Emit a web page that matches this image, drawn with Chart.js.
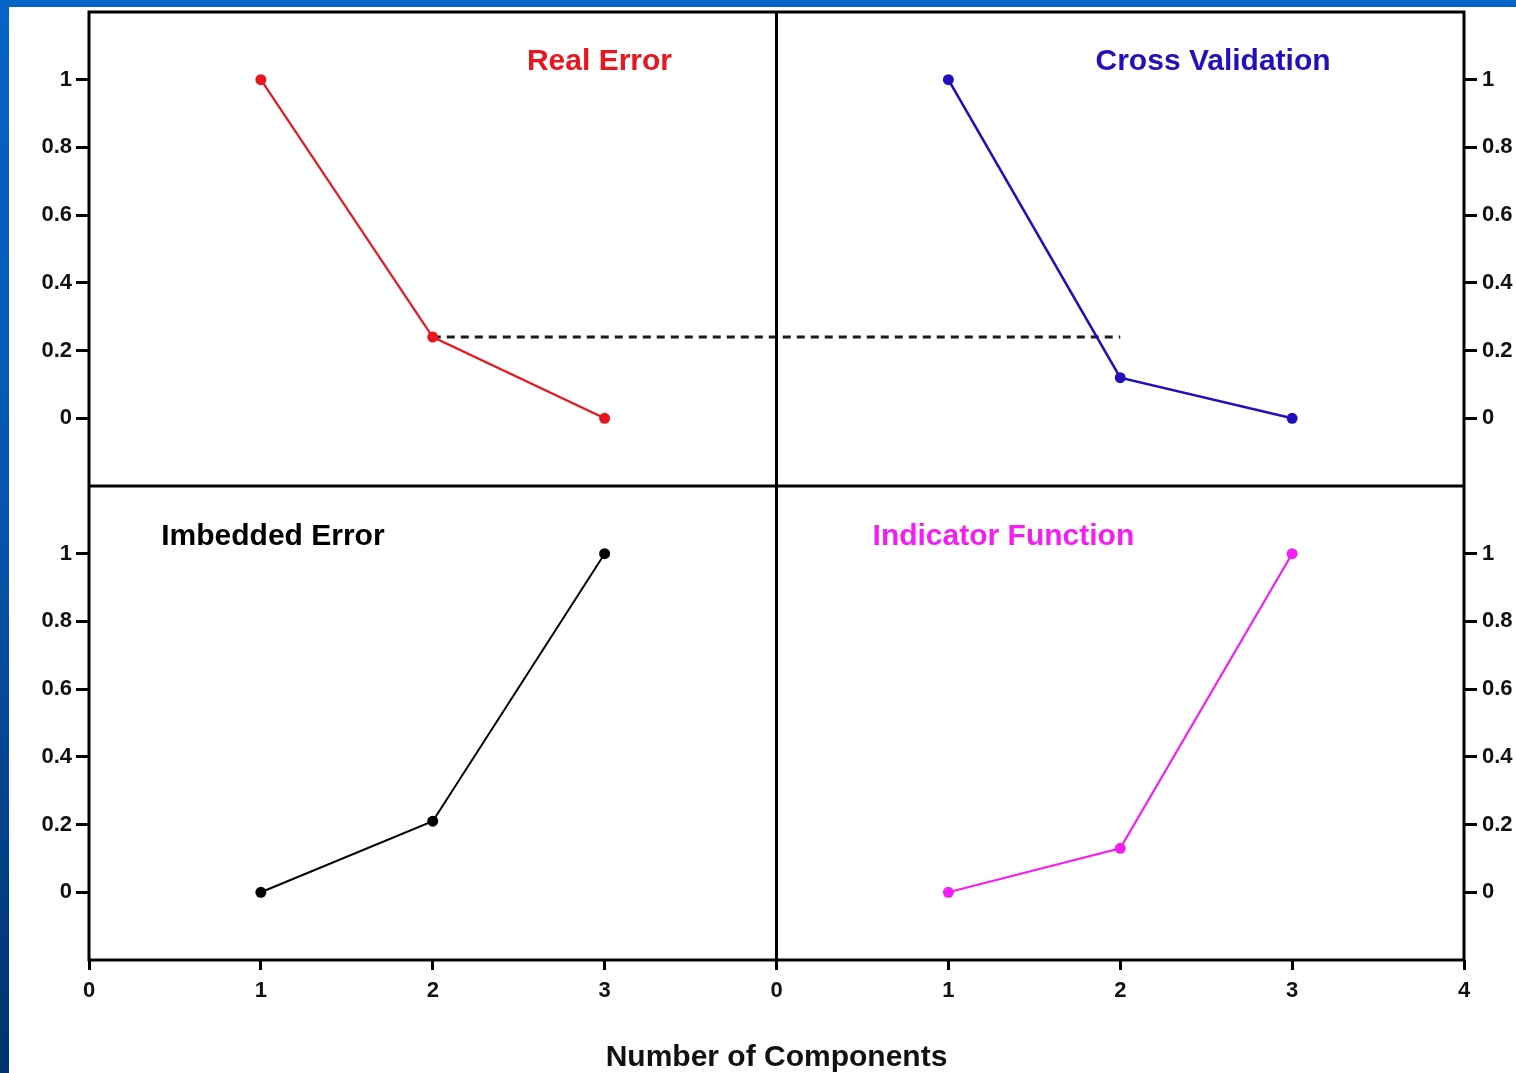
<!DOCTYPE html>
<html>
<head>
<meta charset="utf-8">
<script src="https://cdn.jsdelivr.net/npm/chart.js@4.4.1/dist/chart.umd.min.js"></script>
<style>
  html, body { margin: 0; padding: 0; }
  body {
    width: 1516px; height: 1073px; overflow: hidden; position: relative;
    background: linear-gradient(180deg, #0563c7 0%, #0457b2 45%, #00336f 100%);
  }
  #sheet { position: absolute; left: 9px; top: 7px; right: 0; bottom: 0; background: #fff; }
  #chart { position: absolute; left: 0; top: 0; }
</style>
</head>
<body>
<div id="sheet"></div>
<canvas id="chart" width="1516" height="1073"></canvas>
<script>
// Normalised error measures versus number of components
const components        = [1, 2, 3];
const realError         = [1, 0.24, 0];
const crossValidation   = [1, 0.12, 0];
const imbeddedError     = [0, 0.21, 1];
const indicatorFunction = [0, 0.13, 1];

const yTickValues  = [0, 0.2, 0.4, 0.6, 0.8, 1];
const xTickLabels  = ['0', '1', '2', '3', '0', '1', '2', '3', '4'];
const panelTitles  = ['Real Error', 'Cross Validation', 'Imbedded Error', 'Indicator Function'];
const xAxisTitle   = 'Number of Components';

// The two right-hand panels share the x scale, shifted by one panel width.
const PANEL_SPAN = 4;

const FONT_FAMILY = "'Liberation Sans', Arial, Helvetica, sans-serif";
const tickFont = { family: FONT_FAMILY, size: 22, weight: 'bold' };

const RED = '#e8161e', BLUE = '#2211bb', BLACK = '#000000', MAGENTA = '#f41ef4';

// Title anchors in panel data units (x centre, text baseline), with colour and y scale
const titleStyles = [
  { x: 2.97, y: 1.03, scale: 'yTop', color: RED },
  { x: 6.54, y: 1.03, scale: 'yTop', color: BLUE },
  { x: 1.07, y: 1.025, scale: 'yBot', color: BLACK },
  { x: 5.32, y: 1.025, scale: 'yBot', color: MAGENTA }
];

function points(values, shift) {
  return components.map((c, i) => ({ x: c + shift, y: values[i] }));
}

function lineSet(label, values, shift, yAxisID, color, width) {
  return {
    label, data: points(values, shift), xAxisID: 'x', yAxisID,
    borderColor: color, backgroundColor: color, borderWidth: width,
    pointRadius: 5.5, pointBorderWidth: 0, pointBackgroundColor: color,
    tension: 0, order: 0
  };
}

function yScale(position, weight) {
  return {
    type: 'linear', position, stack: position, stackWeight: 1, weight,
    min: -0.2, max: 1.2,
    afterBuildTicks: s => { s.ticks = yTickValues.map(v => ({ value: v })); },
    afterFit: s => {
      s.width = position === 'left' ? 89 : 52;
      s.paddingTop = 0; s.paddingBottom = 0;
    },
    border: { display: false },
    grid: {
      drawOnChartArea: false, drawTicks: true, tickLength: 13,
      tickWidth: 3, tickColor: '#000', color: '#000', lineWidth: 3
    },
    ticks: {
      padding: position === 'left' ? 4 : 5, color: '#111', font: tickFont,
      callback: v => String(+Number(v).toFixed(1))
    }
  };
}

// Outer frame, panel dividers and panel titles
const panelFrame = {
  id: 'panelFrame',
  afterDatasetsDraw(chart) {
    const { ctx, chartArea: a, scales } = chart;
    const midX = scales.x.getPixelForValue(PANEL_SPAN);
    const midY = scales.yTop.bottom;
    ctx.save();
    ctx.strokeStyle = '#000';
    ctx.lineWidth = 3;
    ctx.strokeRect(a.left, a.top, a.right - a.left, a.bottom - a.top);
    ctx.beginPath();
    ctx.moveTo(midX, a.top); ctx.lineTo(midX, a.bottom);
    ctx.moveTo(a.left, midY); ctx.lineTo(a.right, midY);
    ctx.stroke();

    ctx.font = `bold 30px ${FONT_FAMILY}`;
    ctx.textAlign = 'center';
    ctx.textBaseline = 'alphabetic';
    panelTitles.forEach((t, i) => {
      const s = titleStyles[i];
      ctx.fillStyle = s.color;
      ctx.fillText(t, scales.x.getPixelForValue(s.x), scales[s.scale].getPixelForValue(s.y));
    });
    ctx.restore();
  }
};

new Chart(document.getElementById('chart'), {
  type: 'line',
  data: {
    datasets: [
      lineSet(panelTitles[0], realError, 0, 'yTop', RED, 2.2),
      lineSet(panelTitles[1], crossValidation, PANEL_SPAN, 'yTop', BLUE, 2.6),
      lineSet(panelTitles[2], imbeddedError, 0, 'yBot', BLACK, 2),
      lineSet(panelTitles[3], indicatorFunction, PANEL_SPAN, 'yBot', MAGENTA, 2.2),
      {
        label: 'reference level',
        data: [
          { x: components[1], y: realError[1] },
          { x: components[1] + PANEL_SPAN, y: realError[1] }
        ],
        xAxisID: 'x', yAxisID: 'yTop',
        borderColor: '#1a1a1a', borderWidth: 3, borderDash: [8, 6],
        pointRadius: 0, tension: 0, order: 1
      }
    ]
  },
  options: {
    responsive: false,
    animation: false,
    devicePixelRatio: 1,
    layout: { padding: { top: 12, left: 0, right: 0, bottom: 0 } },
    plugins: { legend: { display: false }, tooltip: { enabled: false } },
    scales: {
      x: {
        type: 'linear', position: 'bottom', min: 0, max: 2 * PANEL_SPAN,
        afterBuildTicks: s => { s.ticks = xTickLabels.map((_, i) => ({ value: i })); },
        afterFit: s => { s.height = 113; s.paddingLeft = 0; s.paddingRight = 0; },
        border: { display: false },
        grid: {
          drawOnChartArea: false, tickLength: 10, tickWidth: 3,
          tickColor: '#000', color: '#000', lineWidth: 3
        },
        ticks: {
          padding: 8, autoSkip: false, maxRotation: 0, color: '#111', font: tickFont,
          callback: (v, i) => xTickLabels[i]
        },
        title: {
          display: true, text: xAxisTitle, color: '#111',
          font: { family: FONT_FAMILY, size: 30, weight: 'bold', lineHeight: 1.1 },
          padding: { top: 0, bottom: -1 }
        }
      },
      yTop: yScale('left', 1),
      yBot: yScale('left', 0),
      yTopR: yScale('right', 0),
      yBotR: yScale('right', 1)
    }
  },
  plugins: [panelFrame]
});
</script>
</body>
</html>
